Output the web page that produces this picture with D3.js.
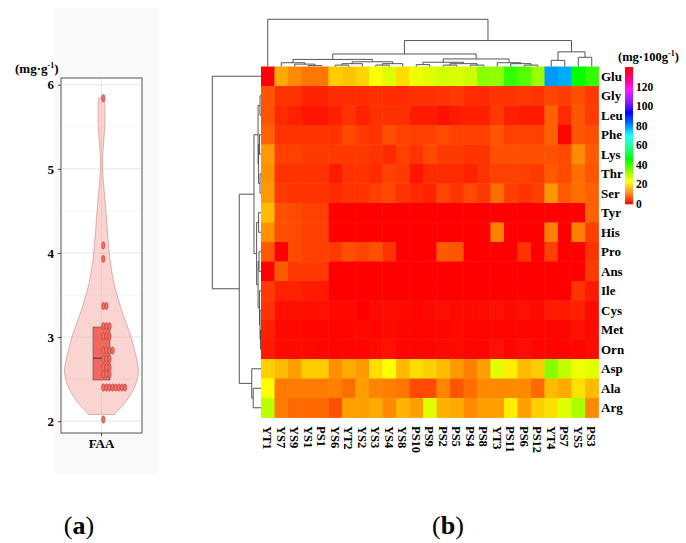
<!DOCTYPE html>
<html>
<head>
<meta charset="utf-8">
<script src="https://cdn.jsdelivr.net/npm/d3@7"></script>
<style>
  body { margin: 0; background: #fff; }
  text { font-family: "Liberation Serif", "Times New Roman", serif; font-weight: bold; fill: #000; }
</style>
</head>
<body>
<svg width="686" height="543"></svg>
<script>
// ---------- data: panel (a) ----------
const faaTicks = [2, 3, 4, 5, 6];
// dot-plot bins: [value, number of dots]
const faaDots = [[5.84, 1], [4.09, 1], [3.93, 1], [3.37, 2], [3.13, 3], [3.01, 3], [2.84, 4],
                 [2.74, 3], [2.64, 3], [2.56, 3], [2.40, 8], [2.02, 1]];
const faaBox = [2.49, 2.75, 3.12];   // q1, median, q3
// violin outline: value and relative density
const violinY = [2.08, 2.12, 2.2, 2.3, 2.4, 2.5, 2.6, 2.7, 2.8, 2.9, 3.0, 3.1, 3.2, 3.35, 3.5, 3.65,
                 3.8, 3.95, 4.1, 4.25, 4.4, 4.55, 4.7, 4.85, 5.0, 5.15, 5.3, 5.45, 5.6, 5.72, 5.84];
const violinD = [0.35, 0.43, 0.6, 0.76, 0.89, 0.97, 1.0, 0.97, 0.92, 0.86, 0.8, 0.72, 0.64, 0.52, 0.42, 0.33,
                 0.27, 0.22, 0.19, 0.16, 0.135, 0.11, 0.08, 0.05, 0.027, 0.03, 0.054, 0.08, 0.095, 0.09, 0.08];

// ---------- data: panel (b) ----------
const samples = ["YT1","YS7","YS9","YS1","PS1","YS6","YT2","YS2","YS3","YS4","YS8","PS10","PS9",
                 "PS2","PS5","PS4","PS8","YT3","PS11","PS6","PS12","YT4","PS7","YS5","PS3"];
const aminoAcids = ["Glu","Gly","Leu","Phe","Lys","Thr","Ser","Tyr","His","Pro","Ans","Ile",
                    "Cys","Met","Orn","Asp","Ala","Arg"];
// mg/100g, one row per amino acid, columns in sample order
const heatValues = [
  [139, 15.6, 12.5, 10.9, 10.9, 18.7, 17.8, 19.5, 23.3, 26.4, 20.2, 24.9, 26.4, 27.5, 26.8, 28.0, 34.2, 33.5, 42.0, 38.9, 32.7, 79.3, 77.8, 46.7, 42.0],
  [7.8, 4.7, 4.7, 3.1, 3.1, 3.8, 3.8, 4.0, 4.4, 3.8, 3.8, 4.4, 4.4, 4.7, 5.3, 3.8, 3.8, 4.7, 4.7, 5.0, 4.7, 6.2, 5.6, 7.3, 5.3],
  [7.8, 3.8, 2.9, 1.8, 1.8, 2.9, 4.7, 3.1, 4.4, 4.4, 4.4, 2.4, 2.4, 1.5, 2.4, 2.9, 2.9, 5.3, 2.9, 2.4, 2.4, 8.8, 3.8, 7.8, 5.3],
  [8.8, 4.7, 4.7, 4.7, 4.7, 4.7, 6.8, 5.3, 4.7, 7.1, 5.9, 5.9, 5.9, 6.8, 5.9, 5.9, 5.9, 7.8, 5.9, 5.9, 5.9, 8.8, 0.5, 7.8, 7.3],
  [14.0, 5.9, 5.9, 5.3, 5.3, 5.3, 5.3, 5.3, 4.7, 3.8, 5.9, 4.7, 6.8, 5.3, 5.3, 4.7, 4.7, 7.3, 7.3, 7.3, 7.3, 7.3, 6.8, 12.8, 8.2],
  [13.2, 4.7, 4.7, 4.7, 4.7, 2.4, 4.7, 4.7, 3.8, 5.9, 5.3, 1.8, 3.8, 3.8, 3.8, 3.1, 4.7, 5.9, 5.9, 5.9, 5.3, 8.2, 6.8, 10.2, 7.8],
  [14.0, 5.3, 4.7, 4.7, 4.7, 3.8, 4.7, 4.7, 5.9, 6.5, 4.7, 3.8, 3.1, 6.2, 4.7, 6.8, 5.3, 10.2, 5.9, 4.7, 5.9, 13.6, 8.2, 10.2, 8.8],
  [17.1, 7.3, 6.8, 5.9, 5.9, 0, 0, 0, 0, 0, 0, 0, 0, 0, 0, 0, 0, 0, 0, 0, 0, 0, 0, 0, 8.8],
  [13.2, 7.3, 6.8, 5.9, 5.9, 0, 0, 0, 0, 0, 0, 0, 0, 0, 0, 0, 0, 11.7, 0, 0, 0, 11.7, 0, 11.7, 5.9],
  [8.2, 0, 6.8, 5.9, 5.9, 5.3, 7.3, 6.2, 7.3, 4.7, 0, 0, 0, 8.2, 7.8, 0, 0, 0, 0, 4.7, 0, 5.9, 0, 0, 4.7],
  [0, 8.2, 5.3, 5.3, 5.3, 0, 0, 0, 0, 0, 0, 0, 0, 0, 0, 0, 0, 0, 0, 0, 0, 0, 0, 0, 5.3],
  [5.3, 3.1, 3.1, 2.4, 2.4, 0, 0, 0, 0, 0, 0, 0, 0, 0, 0, 0, 0, 0, 0, 0, 0, 0, 0, 4.7, 2.4],
  [4.7, 1.5, 1.5, 1.5, 1.5, 0.9, 0.9, 0, 0.9, 1.2, 0.9, 0.5, 0.9, 1.2, 0.9, 0.9, 1.2, 1.5, 0.9, 1.5, 0.9, 2.4, 2.4, 2.9, 0.9],
  [2.9, 0.9, 0.9, 0.5, 0.5, 0.5, 0.5, 0.9, 0.5, 0.9, 0.5, 0.5, 0.5, 0.5, 0.9, 0.5, 0.5, 0.5, 0.5, 0.5, 0.5, 0.5, 0.5, 1.5, 0.9],
  [2.4, 0.9, 0.9, 0.9, 0.5, 0.5, 0.5, 0.5, 0.9, 1.5, 0.5, 0.5, 0.5, 0.9, 0.9, 0.5, 0.5, 1.5, 0.5, 1.2, 0.5, 0.5, 0.5, 0.5, 0.9],
  [19.0, 17.1, 14.6, 18.7, 18.7, 13.2, 15.6, 14.0, 20.5, 23.3, 17.1, 20.2, 19.0, 17.1, 14.0, 11.7, 14.6, 26.2, 21.8, 17.1, 18.7, 34.2, 29.1, 24.7, 26.2],
  [23.3, 11.2, 11.2, 11.2, 11.2, 11.7, 10.2, 14.6, 12.2, 11.7, 10.9, 6.8, 6.8, 12.2, 7.8, 10.2, 12.6, 12.6, 12.6, 12.6, 9.7, 17.1, 15.6, 20.5, 17.1],
  [29.6, 11.2, 9.7, 9.7, 9.7, 7.3, 14.6, 14.6, 15.6, 12.6, 16.1, 14.6, 26.2, 16.1, 15.6, 12.6, 14.6, 14.6, 21.8, 14.6, 19.0, 20.5, 26.2, 31.1, 12.6]
];
const legendTicks = [0, 20, 40, 60, 80, 100, 120];
// dendrograms: [height, left, right], leaves are indexes
const colTree = [100, 0, [55,
  [26.5,
    [15, [8, 1, [5, 2, [2, 3, 4]]], [10, [6, [3, 5, 6], 7], [6, [3, 8, 9], 10]]],
    [16, [9, [4, 11, 12], [6, [3, 13, 14], [3, 15, 16]]], [8, 17, [6, 18, [3, 19, 20]]]]],
  [31, [13, 21, 22], [19.5, 23, 24]]]];
const rowTree = [100, 0, [44.6,
  [14.4,
    [6, [2, 1, 2], [5, [3, 3, 4], [2, 5, 6]]],
    [9, [5, 7, 8], [6, [4, 9, 10], [3, 11, [2, 12, [1, 13, 14]]]]]],
  [19, 15, [16, 16, 17]]]];

const svg = d3.select("svg");

// ================= panel (a) =================
svg.append("rect").attr("x", 55).attr("y", 8).attr("width", 103).attr("height", 466)
  .attr("fill", "#f9f9f9");

const pa = {left: 61, right: 142, top: 78, bottom: 433};
const yA = d3.scaleLinear().domain([1.86, 6.08]).range([pa.bottom, pa.top]);
const xA = d3.scaleBand().domain(["FAA"]).range([pa.left, pa.right]);
const cx = xA("FAA") + xA.bandwidth() / 2;

const gA = svg.append("g");
gA.append("rect").attr("x", pa.left).attr("y", pa.top)
  .attr("width", pa.right - pa.left).attr("height", pa.bottom - pa.top).attr("fill", "#fff");

// grid
const minor = d3.range(2.5, 6, 1);
gA.selectAll(".minor").data(minor).enter().append("line")
  .attr("x1", pa.left).attr("x2", pa.right)
  .attr("y1", d => yA(d)).attr("y2", d => yA(d))
  .attr("stroke", "#f1f1f1").attr("stroke-width", 0.7);
gA.selectAll(".major").data(faaTicks).enter().append("line")
  .attr("x1", pa.left).attr("x2", pa.right)
  .attr("y1", d => yA(d)).attr("y2", d => yA(d))
  .attr("stroke", "#e4e4e4").attr("stroke-width", 0.9);
gA.append("line").attr("x1", cx).attr("x2", cx).attr("y1", pa.top).attr("y2", pa.bottom)
  .attr("stroke", "#e4e4e4").attr("stroke-width", 0.9);

// violin
const wA = d3.scaleLinear().domain([0, 1]).range([0, 37]);
const violinPts = violinY.map((v, i) => [v, violinD[i]]);
gA.append("path")
  .datum(violinPts)
  .attr("d", d3.area()
    .y(d => yA(d[0]))
    .x0(d => cx - wA(d[1]))
    .x1(d => cx + wA(d[1]))
    .curve(d3.curveCatmullRom))
  .attr("fill", "#f4a09a").attr("fill-opacity", 0.45)
  .attr("stroke", "#d99c98").attr("stroke-width", 0.8);

// box
gA.append("rect")
  .attr("x", cx - 8.5).attr("width", 17)
  .attr("y", yA(faaBox[2])).attr("height", yA(faaBox[0]) - yA(faaBox[2]))
  .attr("fill", "#f2675f").attr("stroke", "#6b4a48").attr("stroke-width", 0.6);
gA.append("line")
  .attr("x1", cx - 8.5).attr("x2", cx + 8.5)
  .attr("y1", yA(faaBox[1])).attr("y2", yA(faaBox[1]))
  .attr("stroke", "#333").attr("stroke-width", 1);

// dots
const xDot = d3.scaleLinear().domain([0, 1]).range([cx + 1.8, cx + 4.9]);
const dots = [];
faaDots.forEach(([v, n]) => { for (let j = 0; j < n; j++) dots.push({v, j}); });
gA.selectAll("ellipse").data(dots).enter().append("ellipse")
  .attr("cx", d => xDot(d.j)).attr("cy", d => yA(d.v))
  .attr("rx", 1.7).attr("ry", 3.7)
  .attr("fill", "#f36a60").attr("stroke", "#a8403a").attr("stroke-width", 0.5);

// frame + axes
gA.append("rect").attr("x", pa.left).attr("y", pa.top)
  .attr("width", pa.right - pa.left).attr("height", pa.bottom - pa.top)
  .attr("fill", "none").attr("stroke", "#444").attr("stroke-width", 0.9);

const axL = gA.append("g").attr("transform", `translate(${pa.left},0)`)
  .call(d3.axisLeft(yA).tickValues(faaTicks).tickSize(3).tickPadding(4).tickFormat(d3.format("d")));
axL.select(".domain").remove();
axL.selectAll("line").attr("stroke", "#444");
axL.selectAll("text").style("font-size", "13px").style("font-family", "Liberation Serif").attr("fill", "#000");

const axB = gA.append("g").attr("transform", `translate(0,${pa.bottom})`)
  .call(d3.axisBottom(xA).tickSize(3).tickPadding(3));
axB.select(".domain").remove();
axB.selectAll("line").attr("stroke", "#444");
axB.selectAll("text").style("font-size", "13px").style("font-family", "Liberation Serif").attr("fill", "#000");

const unitA = gA.append("text").attr("x", 15).attr("y", 73).style("font-size", "13px");
unitA.append("tspan").text("(mg·g");
unitA.append("tspan").attr("dy", -5).style("font-size", "8px").text("-1");
unitA.append("tspan").attr("dy", 5).text(")");

// ================= panel (b) =================
const xH = d3.scaleBand().domain(samples).range([261, 598.5]);
const yH = d3.scaleBand().domain(aminoAcids).range([66.5, 417.5]);
const hue = d3.scaleLinear().domain([0, 140]).range([0, 360]).clamp(true);
const color = v => d3.hsl(hue(v), 1, 0.5).toString();

const cells = [];
heatValues.forEach((row, r) => row.forEach((v, c) => cells.push({aa: aminoAcids[r], s: samples[c], v})));
svg.append("g").selectAll("rect").data(cells).enter().append("rect")
  .attr("x", d => xH(d.s)).attr("y", d => yH(d.aa))
  .attr("width", xH.bandwidth() + 0.4).attr("height", yH.bandwidth() + 0.4)
  .attr("fill", d => color(d.v));

// row labels
svg.append("g").selectAll("text").data(aminoAcids).enter().append("text")
  .attr("x", 601).attr("y", d => yH(d) + yH.bandwidth() / 2).attr("dy", "0.35em")
  .style("font-size", "13px").text(d => d);

// column labels
svg.append("g").selectAll("text").data(samples).enter().append("text")
  .attr("transform", d => `translate(${xH(d) + xH.bandwidth() / 2},426) rotate(90)`)
  .attr("dy", "0.35em").style("font-size", "12.5px").text(d => d);

// dendrograms
function walk(node, pos, segs) {
  if (typeof node === "number") return {p: pos(node), h: 0};
  const [h, a, b] = node;
  const l = walk(a, pos, segs), r = walk(b, pos, segs);
  segs.push({h, l, r});
  return {p: (l.p + r.p) / 2, h};
}
const colSegs = [];
walk(colTree, i => xH(samples[i]) + xH.bandwidth() / 2, colSegs);
const yD = d3.scaleLinear().domain([0, 100]).range([66.5, 19.3]);
svg.append("g").selectAll("path").data(colSegs).enter().append("path")
  .attr("d", d => `M${d.l.p},${yD(d.l.h)}V${yD(d.h)}H${d.r.p}V${yD(d.r.h)}`)
  .attr("fill", "none").attr("stroke", "#444").attr("stroke-width", 0.9);

const rowSegs = [];
walk(rowTree, i => yH(aminoAcids[i]) + yH.bandwidth() / 2, rowSegs);
const xD = d3.scaleLinear().domain([0, 100]).range([261, 212.3]);
svg.append("g").selectAll("path").data(rowSegs).enter().append("path")
  .attr("d", d => `M${xD(d.l.h)},${d.l.p}H${xD(d.h)}V${d.r.p}H${xD(d.r.h)}`)
  .attr("fill", "none").attr("stroke", "#444").attr("stroke-width", 0.9);

// colour legend
const yC = d3.scaleLinear().domain([0, 140]).range([204, 67]);
svg.append("g").selectAll("rect").data(d3.range(0, 140, 1)).enter().append("rect")
  .attr("x", 625).attr("width", 8)
  .attr("y", d => yC(d + 1)).attr("height", d => yC(d) - yC(d + 1) + 0.3)
  .attr("fill", d => color(d + 0.5));
svg.append("g").selectAll("text").data(legendTicks).enter().append("text")
  .attr("x", 636).attr("y", d => yC(d)).attr("dy", "0.35em")
  .style("font-size", "11.5px").text(d => d);

const unitB = svg.append("text").attr("x", 618).attr("y", 61).style("font-size", "12.5px");
unitB.append("tspan").text("(mg·100g");
unitB.append("tspan").attr("dy", -5).style("font-size", "8px").text("-1");
unitB.append("tspan").attr("dy", 5).text(")");

// panel letters
[["(a)", 79], ["(b)", 448]].forEach(([t, x]) => {
  const tx = svg.append("text").attr("x", x).attr("y", 534).attr("text-anchor", "middle")
    .style("font-size", "26px").style("font-weight", "normal");
  tx.append("tspan").text("(");
  tx.append("tspan").style("font-weight", "bold").text(t[1]);
  tx.append("tspan").text(")");
});
</script>
</body>
</html>
